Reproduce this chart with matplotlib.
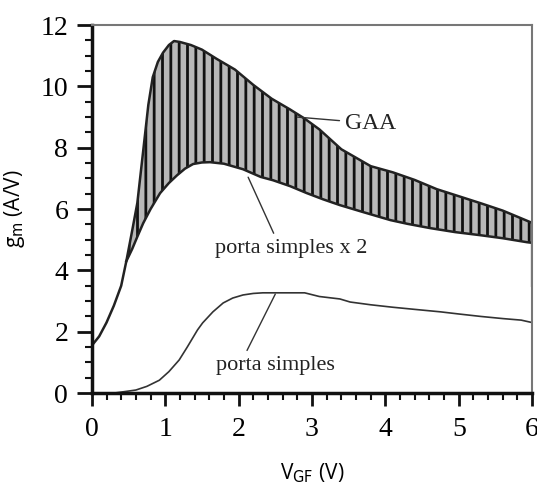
import numpy as np
import matplotlib
matplotlib.use('Agg')
import matplotlib.pyplot as plt
from matplotlib.ticker import MultipleLocator

# GAA (upper edge of the band)
x_gaa = [0, 0.1, 0.2, 0.3, 0.4, 0.47, 0.55, 0.62, 0.7, 0.77, 0.83, 0.9, 0.97, 1.05, 1.12,
         1.2, 1.35, 1.5, 1.7, 1.95, 2.2, 2.45, 2.7, 2.9, 3.1, 3.4, 3.8, 4.1, 4.4, 4.7,
         5.0, 5.3, 5.6, 5.8, 6.0]
g_gaa = [1.55, 1.85, 2.3, 2.85, 3.5, 4.3, 5.3, 6.2, 7.9, 9.4, 10.3, 10.8, 11.1, 11.35, 11.48,
         11.45, 11.35, 11.2, 10.9, 10.55, 10.05, 9.6, 9.25, 8.95, 8.6, 7.95, 7.4, 7.2, 6.95, 6.65,
         6.42, 6.19, 5.95, 5.75, 5.55]

# porta simples x 2 (lower edge of the band)
x_x2 = [0.47, 0.55, 0.62, 0.7, 0.8, 0.93, 1.05, 1.16, 1.27, 1.38, 1.5, 1.61, 1.8, 2.06,
        2.3, 2.47, 2.7, 2.93, 3.15, 3.38, 3.7, 4.07, 4.3, 4.61, 4.95, 5.29, 5.6, 5.93, 6.0, 6.0]
g_x2 = [4.3, 4.7, 5.1, 5.54, 6.0, 6.52, 6.85, 7.1, 7.32, 7.47, 7.52, 7.53, 7.48, 7.3,
        7.05, 6.94, 6.75, 6.52, 6.32, 6.13, 5.9, 5.64, 5.52, 5.38, 5.25, 5.15, 5.05, 4.92, 4.9, 3.5]

# porta simples
x_ps = [0.3, 0.45, 0.6, 0.75, 0.92, 1.05, 1.19, 1.3, 1.44, 1.51, 1.65, 1.79, 1.92, 2.06, 2.2,
        2.33, 2.9, 3.1, 3.38, 3.52, 3.8, 4.1, 4.4, 4.75, 5.0, 5.3, 5.6, 5.85, 6.0]
g_ps = [0.0, 0.05, 0.1, 0.22, 0.42, 0.7, 1.08, 1.5, 2.06, 2.29, 2.65, 2.94, 3.1, 3.2, 3.25,
        3.27, 3.27, 3.15, 3.07, 2.97, 2.88, 2.8, 2.73, 2.65, 2.58, 2.5, 2.43, 2.38, 2.3]

plt.rcParams['hatch.linewidth'] = 2.0
plt.rcParams['hatch.color'] = '#111111'

fig = plt.figure(figsize=(5.37, 4.92), dpi=100)
ax = fig.add_axes([0.171, 0.201, 0.82, 0.748])

# shaded band between GAA and 2x single gate
x_gaa_a = np.array(x_gaa)
g_gaa_a = np.array(g_gaa)
band_x = np.concatenate([x_gaa_a[x_gaa_a >= 0.47], x_x2[::-1]])
band_y = np.concatenate([g_gaa_a[x_gaa_a >= 0.47], g_x2[::-1]])
ax.fill(band_x, band_y, facecolor='#b8b8b8', edgecolor='#111111', hatch='||', lw=0)

ax.plot(x_gaa, g_gaa, color='#222222', lw=1.8)
ax.plot(x_x2, g_x2, color='#222222', lw=1.8)
ax.plot(x_ps, g_ps, color='#333333', lw=1.2)

serif = 'Liberation Serif'
ax.annotate('GAA', xy=(2.8, 9.0), xytext=(3.45, 8.8), fontsize=17, family=serif,
            va='center', ha='left', color='#222222',
            arrowprops=dict(arrowstyle='-', color='#333333', lw=1.0, shrinkB=0, shrinkA=2))
ax.annotate('porta simples x 2', xy=(2.13, 7.04), xytext=(1.68, 4.73), fontsize=16, family=serif,
            va='center', ha='left', color='#222222', textcoords='data',
            arrowprops=dict(arrowstyle='-', color='#333333', lw=1.0, shrinkB=0,
                            relpos=(0.4, 1.0)))
ax.annotate('porta simples', xy=(2.5, 3.23), xytext=(1.69, 0.91), fontsize=16, family=serif,
            va='center', ha='left', color='#222222',
            arrowprops=dict(arrowstyle='-', color='#333333', lw=1.0, shrinkB=0,
                            relpos=(0.24, 1.0)))

ax.set_xlim(0, 6)
ax.set_ylim(0, 12)
ax.xaxis.set_major_locator(MultipleLocator(1))
ax.xaxis.set_minor_locator(MultipleLocator(0.2))
ax.yaxis.set_major_locator(MultipleLocator(2))
ax.yaxis.set_minor_locator(MultipleLocator(0.5))

for s in ['left', 'bottom']:
    ax.spines[s].set_linewidth(2.5)
    ax.spines[s].set_color('#111111')
for s in ['top', 'right']:
    ax.spines[s].set_linewidth(1.5)
    ax.spines[s].set_color('#777777')

ax.tick_params(which='major', direction='out', length=11, width=2, color='#111111',
               labelsize=20, pad=6)
ax.tick_params(axis='x', which='major', length=9, pad=8)
ax.tick_params(which='minor', direction='out', length=5, width=1.5, color='#111111')
for lab in ax.get_xticklabels() + ax.get_yticklabels():
    lab.set_family(serif)

ax.set_xlabel(r'V$_\mathrm{GF}$ (V)', fontsize=15, family='Open Sans', labelpad=14)
ax.set_ylabel(r'g$_\mathrm{m}$ (A/V)', fontsize=15, family='Open Sans', labelpad=10)

fig.savefig('out.png', dpi=100)
